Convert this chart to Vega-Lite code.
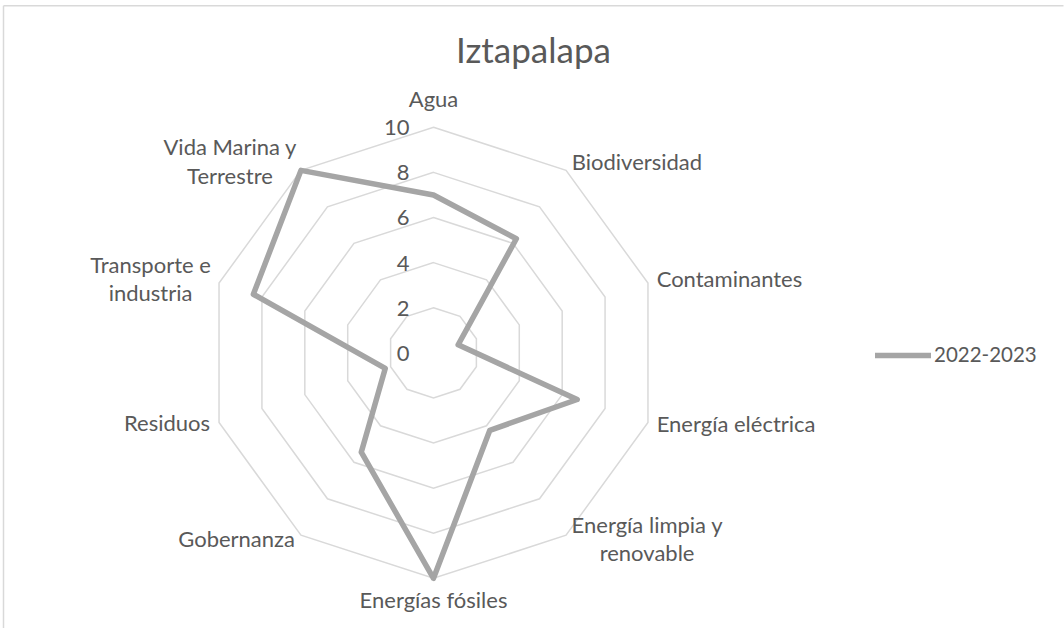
{
  "$schema": "https://vega.github.io/schema/vega-lite/v6.json",
  "autosize": "none",
  "width": 1060,
  "height": 622.2,
  "padding": {"left": 3.5, "top": 5.8, "right": 0.5, "bottom": 0},
  "background": "white",
  "title": {"text": "Iztapalapa", "anchor": "middle", "frame": "group", "offset": -92.5, "baseline": "alphabetic", "font": "Lato", "fontSize": 35, "fontWeight": "normal", "color": "#595959"},
  "config": {
    "view": {"stroke": "#D9D9D9", "strokeWidth": 1.5, "strokeDash": [1060, 1682.2, 622.2, 0]},
    "text": {"font": "Lato", "fontSize": 22, "color": "#595959", "lineBreak": "\n", "lineHeight": 28.7, "baseline": "alphabetic"},
    "legend": {"orient": "none", "legendX": 868.5, "legendY": 318.7, "title": null, "symbolType": "stroke", "symbolSize": 3136, "symbolStrokeWidth": 5.5, "labelFont": "Lato", "labelFontSize": 20.5, "labelColor": "#595959", "labelOffset": 0, "padding": 0}
  },
  "datasets": {
    "radar": [
      {"categoria": "Agua", "valor": 7, "serie": "2022-2023"},
      {"categoria": "Biodiversidad", "valor": 6.25, "serie": "2022-2023"},
      {"categoria": "Contaminantes", "valor": 1.15, "serie": "2022-2023"},
      {"categoria": "Energía eléctrica", "valor": 6.7, "serie": "2022-2023"},
      {"categoria": "Energía limpia y\nrenovable", "valor": 4.25, "serie": "2022-2023"},
      {"categoria": "Energías fósiles", "valor": 10, "serie": "2022-2023"},
      {"categoria": "Gobernanza", "valor": 5.45, "serie": "2022-2023"},
      {"categoria": "Residuos", "valor": 2.25, "serie": "2022-2023"},
      {"categoria": "Transporte e\nindustria", "valor": 8.4, "serie": "2022-2023"},
      {"categoria": "Vida Marina y\nTerrestre", "valor": 10, "serie": "2022-2023"}
    ],
    "ticks": [{"nivel": 0}, {"nivel": 2}, {"nivel": 4}, {"nivel": 6}, {"nivel": 8}, {"nivel": 10}]
  },
  "data": {"name": "radar"},
  "transform": [
    {"window": [{"op": "row_number", "as": "idx"}]},
    {"calculate": "(datum.idx - 1) * 2 * PI / 10", "as": "ang"},
    {"calculate": "10 * sin(datum.ang)", "as": "lx"},
    {"calculate": "10 * cos(datum.ang)", "as": "ly"}
  ],
  "layer": [
    {
      "transform": [
        {"calculate": "[2, 4, 6, 8, 10]", "as": "nivel"},
        {"flatten": ["nivel"]},
        {"calculate": "datum.nivel * sin(datum.ang)", "as": "gx"},
        {"calculate": "datum.nivel * cos(datum.ang)", "as": "gy"}
      ],
      "mark": {"type": "line", "interpolate": "linear-closed", "stroke": "#D9D9D9", "strokeWidth": 1.5},
      "encoding": {
        "x": {"field": "gx", "type": "quantitative", "scale": {"domain": [-19.0687, 27.9379], "nice": false, "zero": false}, "axis": null},
        "y": {"field": "gy", "type": "quantitative", "scale": {"domain": [-12.204, 15.388], "nice": false, "zero": false}, "axis": null},
        "detail": {"field": "nivel", "type": "nominal"},
        "order": {"field": "idx", "type": "quantitative"}
      }
    },
    {
      "data": {"name": "ticks"},
      "transform": [{"calculate": "datum.nivel", "as": "ty"}],
      "mark": {"type": "text", "align": "right", "baseline": "middle", "dx": -24, "dy": 1},
      "encoding": {
        "x": {"datum": 0, "type": "quantitative"},
        "y": {"field": "ty", "type": "quantitative"},
        "text": {"field": "nivel", "type": "quantitative"}
      }
    },
    {
      "transform": [
        {"calculate": "datum.valor * sin(datum.ang)", "as": "px"},
        {"calculate": "datum.valor * cos(datum.ang)", "as": "py"}
      ],
      "mark": {"type": "line", "interpolate": "linear-closed", "strokeWidth": 5.5, "strokeJoin": "round"},
      "encoding": {
        "x": {"field": "px", "type": "quantitative"},
        "y": {"field": "py", "type": "quantitative"},
        "color": {"field": "serie", "type": "nominal", "scale": {"range": ["#A5A5A5"]}},
        "order": {"field": "idx", "type": "quantitative"}
      }
    },
    {"transform": [{"filter": "datum.idx == 1"}], "mark": {"type": "text", "align": "center", "dy": -20}, "encoding": {"x": {"field": "lx", "type": "quantitative"}, "y": {"field": "ly", "type": "quantitative"}, "text": {"field": "categoria"}}},
    {"transform": [{"filter": "datum.idx == 2"}], "mark": {"type": "text", "align": "left", "dx": 5.7, "dy": 0}, "encoding": {"x": {"field": "lx", "type": "quantitative"}, "y": {"field": "ly", "type": "quantitative"}, "text": {"field": "categoria"}}},
    {"transform": [{"filter": "datum.idx == 3"}], "mark": {"type": "text", "align": "left", "dx": 8.7, "dy": 3.6}, "encoding": {"x": {"field": "lx", "type": "quantitative"}, "y": {"field": "ly", "type": "quantitative"}, "text": {"field": "categoria"}}},
    {"transform": [{"filter": "datum.idx == 4"}], "mark": {"type": "text", "align": "left", "dx": 8.7, "dy": 9.2}, "encoding": {"x": {"field": "lx", "type": "quantitative"}, "y": {"field": "ly", "type": "quantitative"}, "text": {"field": "categoria"}}},
    {"transform": [{"filter": "datum.idx == 5"}], "mark": {"type": "text", "align": "center", "dx": 81, "dy": -2.5}, "encoding": {"x": {"field": "lx", "type": "quantitative"}, "y": {"field": "ly", "type": "quantitative"}, "text": {"field": "categoria"}}},
    {"transform": [{"filter": "datum.idx == 6"}], "mark": {"type": "text", "align": "center", "dy": 29.4}, "encoding": {"x": {"field": "lx", "type": "quantitative"}, "y": {"field": "ly", "type": "quantitative"}, "text": {"field": "categoria"}}},
    {"transform": [{"filter": "datum.idx == 7"}], "mark": {"type": "text", "align": "right", "dx": -6, "dy": 12}, "encoding": {"x": {"field": "lx", "type": "quantitative"}, "y": {"field": "ly", "type": "quantitative"}, "text": {"field": "categoria"}}},
    {"transform": [{"filter": "datum.idx == 8"}], "mark": {"type": "text", "align": "right", "dx": -9, "dy": 8.2}, "encoding": {"x": {"field": "lx", "type": "quantitative"}, "y": {"field": "ly", "type": "quantitative"}, "text": {"field": "categoria"}}},
    {"transform": [{"filter": "datum.idx == 9"}], "mark": {"type": "text", "align": "center", "dx": -68.5, "dy": -10.4}, "encoding": {"x": {"field": "lx", "type": "quantitative"}, "y": {"field": "ly", "type": "quantitative"}, "text": {"field": "categoria"}}},
    {"transform": [{"filter": "datum.idx == 10"}], "mark": {"type": "text", "align": "center", "dx": -71, "dy": -15}, "encoding": {"x": {"field": "lx", "type": "quantitative"}, "y": {"field": "ly", "type": "quantitative"}, "text": {"field": "categoria"}}}
  ]
}
